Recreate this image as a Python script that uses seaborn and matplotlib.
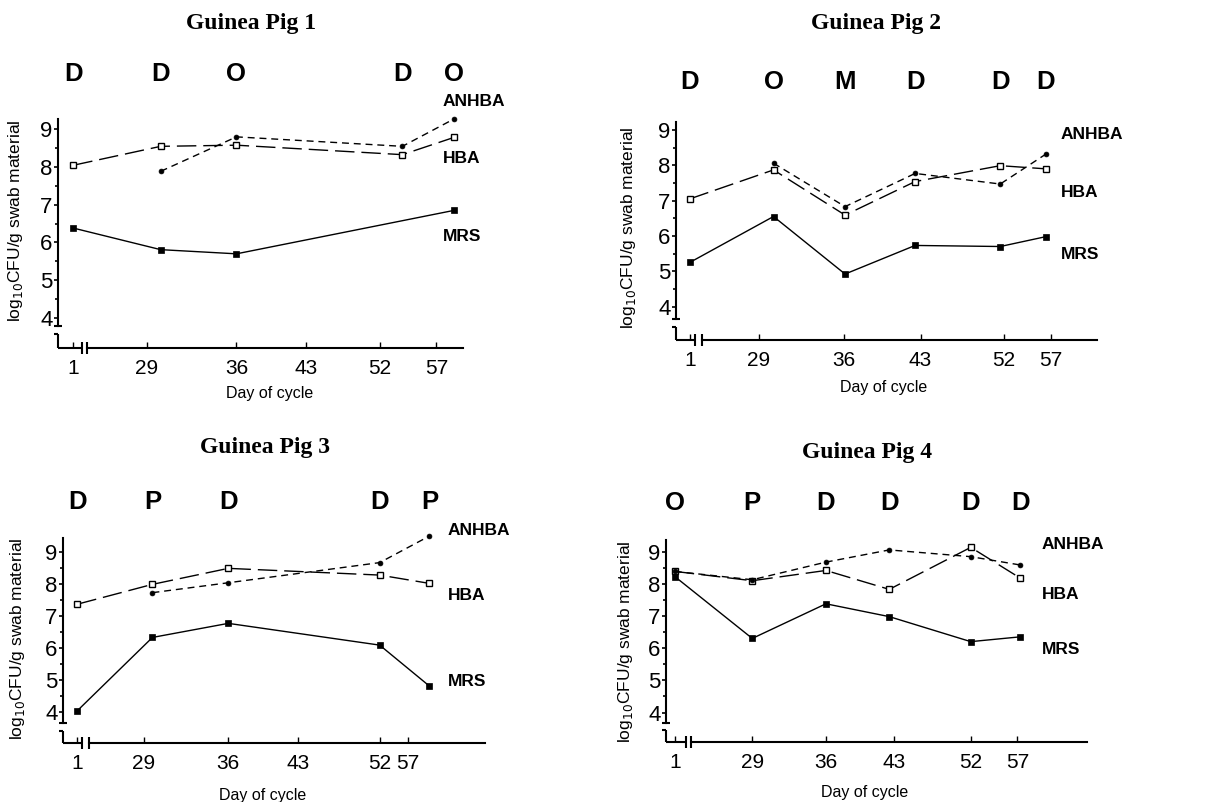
import numpy as np
import matplotlib
matplotlib.use("Agg")
import matplotlib.pyplot as plt
import seaborn as sns
from matplotlib import transforms
from matplotlib.ticker import FixedLocator

# Values (log10 CFU/g swab material vs. day of cycle)
TICK_DAYS = [1, 29, 36, 43, 52, 57]
TICK_LABELS = ["1", "29", "36", "43", "52", "57"]
SERIES = ["ANHBA", "HBA", "MRS"]

# Guinea pig 1
PIG1_DAYS = [1, 30.1, 36, 54.0, 58.6]
PIG1_STAGE = ["D", "D", "O", "D", "O"]
PIG1_HBA_DAYS = [1, 30.1, 36, 54.0, 58.6]
PIG1_HBA = [8.04, 8.54, 8.57, 8.32, 8.78]
PIG1_ANHBA_DAYS = [30.1, 36, 54.0, 58.6]
PIG1_ANHBA = [7.88, 8.79, 8.54, 9.27]
PIG1_MRS_DAYS = [1, 30.1, 36, 58.6]
PIG1_MRS = [6.38, 5.81, 5.70, 6.85]

# Guinea pig 2
PIG2_DAYS = [1, 30.2, 36.1, 42.5, 51.6, 56.5]
PIG2_STAGE = ["D", "O", "M", "D", "D", "D"]
PIG2_HBA_DAYS = [1, 30.2, 36.1, 42.5, 51.6, 56.5]
PIG2_HBA = [7.05, 7.87, 6.59, 7.54, 7.99, 7.90]
PIG2_ANHBA_DAYS = [30.2, 36.1, 42.5, 51.6, 56.5]
PIG2_ANHBA = [8.06, 6.83, 7.77, 7.47, 8.32]
PIG2_MRS_DAYS = [1, 30.2, 36.1, 42.5, 51.6, 56.5]
PIG2_MRS = [5.25, 6.55, 4.92, 5.73, 5.70, 5.98]

# Guinea pig 3
PIG3_DAYS = [1, 29.7, 36, 52, 60.8]
PIG3_STAGE = ["D", "P", "D", "D", "P"]
PIG3_HBA_DAYS = [1, 29.7, 36, 52, 60.8]
PIG3_HBA = [7.36, 7.98, 8.48, 8.27, 8.01]
PIG3_ANHBA_DAYS = [29.7, 36, 52, 60.8]
PIG3_ANHBA = [7.72, 8.03, 8.66, 9.49]
PIG3_MRS_DAYS = [1, 29.7, 36, 52, 60.8]
PIG3_MRS = [4.03, 6.32, 6.76, 6.08, 4.80]

# Guinea pig 4
PIG4_DAYS = [1, 29, 36, 42.5, 52, 57.3]
PIG4_STAGE = ["O", "P", "D", "D", "D", "D"]
PIG4_HBA_DAYS = [1, 29, 36, 42.5, 52, 57.3]
PIG4_HBA = [8.40, 8.11, 8.43, 7.84, 9.15, 8.19]
PIG4_ANHBA_DAYS = [1, 29, 36, 42.5, 52, 57.3]
PIG4_ANHBA = [8.40, 8.14, 8.69, 9.07, 8.86, 8.60]
PIG4_MRS_DAYS = [1, 29, 36, 42.5, 52, 57.3]
PIG4_MRS = [8.24, 6.31, 7.39, 6.99, 6.21, 6.36]

pigs = [
    dict(title="Guinea Pig 1", days=PIG1_DAYS, stage=PIG1_STAGE,
         HBA=(PIG1_HBA_DAYS, PIG1_HBA), ANHBA=(PIG1_ANHBA_DAYS, PIG1_ANHBA),
         MRS=(PIG1_MRS_DAYS, PIG1_MRS)),
    dict(title="Guinea Pig 2", days=PIG2_DAYS, stage=PIG2_STAGE,
         HBA=(PIG2_HBA_DAYS, PIG2_HBA), ANHBA=(PIG2_ANHBA_DAYS, PIG2_ANHBA),
         MRS=(PIG2_MRS_DAYS, PIG2_MRS)),
    dict(title="Guinea Pig 3", days=PIG3_DAYS, stage=PIG3_STAGE,
         HBA=(PIG3_HBA_DAYS, PIG3_HBA), ANHBA=(PIG3_ANHBA_DAYS, PIG3_ANHBA),
         MRS=(PIG3_MRS_DAYS, PIG3_MRS)),
    dict(title="Guinea Pig 4", days=PIG4_DAYS, stage=PIG4_STAGE,
         HBA=(PIG4_HBA_DAYS, PIG4_HBA), ANHBA=(PIG4_ANHBA_DAYS, PIG4_ANHBA),
         MRS=(PIG4_MRS_DAYS, PIG4_MRS)),
]

# layout of each panel (figure pixels / axes fractions)
layout = [
    dict(rect=[0.048, 0.566, 0.335, 0.286], ylim=(3.21, 9.27),
         tick_frac=[0.038, 0.219, 0.441, 0.614, 0.795, 0.935],
         title_xy=(251, 24), stage_y=1.197, name_x=0.951,
         name_y=[9.72, 8.21, 6.15], ylab=(-0.106, 0.555), xlab=(0.523, -0.197),
         xbreak=(0.059, 0.072)),
    dict(rect=[0.5596, 0.576, 0.3485, 0.272], ylim=(3.05, 9.23),
         tick_frac=[0.033, 0.197, 0.399, 0.581, 0.779, 0.890],
         title_xy=(876, 24), stage_y=1.183, name_x=0.914,
         name_y=[8.86, 7.22, 5.46], ylab=(-0.112, 0.514), xlab=(0.494, -0.216),
         xbreak=(0.044, 0.062)),
    dict(rect=[0.0522, 0.0736, 0.349, 0.2556], ylim=(3.02, 9.43),
         tick_frac=[0.034, 0.192, 0.392, 0.557, 0.751, 0.818],
         title_xy=(265, 447), stage_y=1.176, name_x=0.912,
         name_y=[9.65, 7.63, 4.95], ylab=(-0.109, 0.507), xlab=(0.474, -0.254),
         xbreak=(0.044, 0.062)),
    dict(rect=[0.5513, 0.0748, 0.3485, 0.2519], ylim=(3.08, 9.38),
         tick_frac=[0.021, 0.205, 0.380, 0.542, 0.724, 0.835],
         title_xy=(867, 453), stage_y=1.183, name_x=0.893,
         name_y=[9.23, 7.67, 5.95], ylab=(-0.095, 0.495), xlab=(0.473, -0.252),
         xbreak=(0.047, 0.060)),
]

styles = {
    "HBA": dict(linestyle=(0, (14, 5)), marker="s", markersize=4.5,
                markerfacecolor="white", markeredgewidth=1.0),
    "ANHBA": dict(linestyle=(0, (5, 3.5)), marker="o", markersize=3.5,
                  markerfacecolor="black", markeredgewidth=0.5),
    "MRS": dict(linestyle="-", marker="s", markersize=5,
                markerfacecolor="black", markeredgewidth=0.5),
}


def day_scale(days, fracs):
    d = np.asarray(days, float)
    f = np.asarray(fracs, float)
    d_ext = np.r_[d[0] - 1000 * (d[1] - d[0]), d, d[-1] + 1000 * (d[-1] - d[-2])]
    f_ext = np.r_[f[0] - 1000 * (f[1] - f[0]), f, f[-1] + 1000 * (f[-1] - f[-2])]

    def fwd(x):
        return np.interp(x, d_ext, f_ext)

    def inv(y):
        return np.interp(y, f_ext, d_ext)
    return fwd, inv


sns.set_style("ticks", {"axes.edgecolor": "black", "text.color": "black",
                        "xtick.color": "black", "ytick.color": "black",
                        "axes.labelcolor": "black"})
plt.rcParams["font.family"] = ["Liberation Sans", "DejaVu Sans"]

W, H = 1208, 802
fig = plt.figure(figsize=(W / 100, H / 100), dpi=100)

for pig, lay in zip(pigs, layout):
    ax = fig.add_axes(lay["rect"])
    fwd, inv = day_scale(TICK_DAYS, lay["tick_frac"])
    ax.set_xscale("function", functions=(fwd, inv))

    for name in ["HBA", "ANHBA", "MRS"]:
        xs, ys = pig[name]
        sns.lineplot(x=xs, y=ys, ax=ax, color="black", linewidth=1.0,
                     markeredgecolor="black", errorbar=None, sort=False,
                     legend=False, clip_on=False, **styles[name])

    ax.set_xlim(float(inv(0.0)), float(inv(1.0)))
    ax.set_ylim(*lay["ylim"])

    # ticks
    ax.set_xticks(TICK_DAYS)
    ax.set_xticklabels(TICK_LABELS)
    ax.xaxis.set_minor_locator(FixedLocator([]))
    ax.set_yticks([4, 5, 6, 7, 8, 9])
    ax.yaxis.set_minor_locator(FixedLocator([4.5, 5.5, 6.5, 7.5, 8.5]))
    ax.tick_params(axis="x", which="major", direction="in", length=4,
                   width=1, labelsize=15, pad=8)
    ax.tick_params(axis="y", which="major", direction="out", length=3,
                   width=1.2, labelsize=16, pad=1)
    ax.tick_params(axis="y", which="minor", direction="out", length=2.5,
                   width=1.2)

    # broken axes
    for side in ["top", "right"]:
        ax.spines[side].set_visible(False)
    ylo, yhi = lay["ylim"]
    y_top_break, y_low_break = 0.095, 0.06
    ax.spines["left"].set_bounds(ylo + y_top_break * (yhi - ylo), yhi)
    ax.spines["left"].set_linewidth(1.5)
    ax.spines["bottom"].set_linewidth(1.5)
    xb0, xb1 = lay["xbreak"]
    ax.spines["bottom"].set_bounds(float(inv(xb1)), float(inv(1.0)))
    ta = ax.transAxes
    ax_w = lay["rect"][2] * W
    ax_h = lay["rect"][3] * H
    cw = 4.0 / ax_w
    ch = 6.0 / ax_h
    kw = dict(transform=ta, color="black", lw=1.5, clip_on=False,
              solid_capstyle="butt")
    ax.plot([0, 0], [0, y_low_break], **kw)
    ax.plot([-cw, cw], [y_top_break, y_top_break], **kw)
    ax.plot([-cw, 0], [y_low_break, y_low_break], **kw)
    ax.plot([0, xb0], [0, 0], **kw)
    ax.plot([xb0, xb0], [-ch, ch], **kw)
    ax.plot([xb1, xb1], [-ch, ch], **kw)

    # axis labels
    ax.set_xlabel("Day of cycle", fontsize=11.5)
    ax.set_ylabel("log$_{10}$CFU/g swab material", fontsize=12.5)
    ax.xaxis.set_label_coords(*lay["xlab"])
    ax.yaxis.set_label_coords(*lay["ylab"])
    ax.xaxis.label.set_va("center")
    ax.yaxis.label.set_va("center")

    # oestrous stage letters above each sampling day
    trans_stage = transforms.blended_transform_factory(ax.transData, ax.transAxes)
    for d, s in zip(pig["days"], pig["stage"]):
        ax.text(d, lay["stage_y"], s, transform=trans_stage, ha="center",
                va="center", fontsize=18.5, fontweight="bold", clip_on=False)

    # series names at the right
    trans_name = transforms.blended_transform_factory(ax.transAxes, ax.transData)
    for name, yv in zip(SERIES, lay["name_y"]):
        ax.text(lay["name_x"], yv, name, transform=trans_name, ha="left",
                va="center", fontsize=12.5, fontweight="bold", clip_on=False)

    tx, ty = lay["title_xy"]
    fig.text(tx / W, 1 - ty / H, pig["title"], ha="center", va="center",
             fontsize=17, fontweight="bold", family="Liberation Serif")

fig.savefig("out.png", dpi=100)
